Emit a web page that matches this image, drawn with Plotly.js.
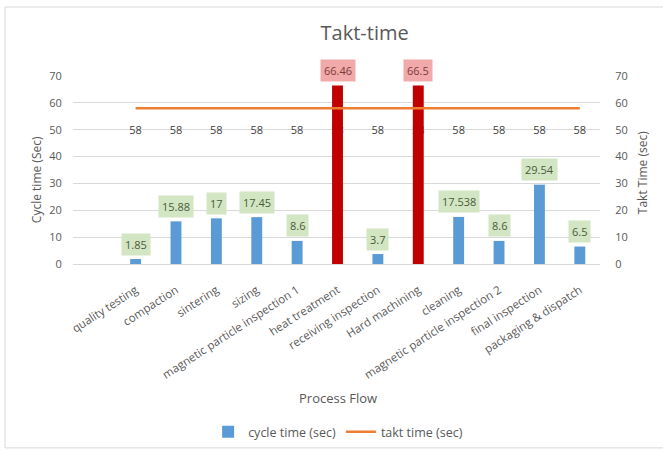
<!DOCTYPE html>
<html>
<head>
<meta charset="utf-8">
<script src="https://cdn.plot.ly/plotly-3.0.1.min.js"></script>
<style>html,body{margin:0;padding:0;background:#fff;}#chart{width:663px;height:451px;}</style>
</head>
<body>
<div id="chart"></div>
<script>
const categories = ["quality testing","compaction","sintering","sizing","magnetic particle inspection 1","heat treatment","receiving inspection","Hard machining","cleaning","magnetic particle inspection 2","final inspection","packaging & dispatch"];
const cycleTime = [1.85, 15.88, 17, 17.45, 8.6, 66.46, 3.7, 66.5, 17.538, 8.6, 29.54, 6.5];
const cycleLabels = ["1.85","15.88","17","17.45","8.6","66.46","3.7","66.5","17.538","8.6","29.54","6.5"];
const taktTime = [58, 58, 58, 58, 58, 58, 58, 58, 58, 58, 58, 58];

const FONT = "'Open Sans', sans-serif";
const GRAY = "#595959";
const BLUE = "#5b9bd5", RED = "#c00000", ORANGE = "#ed7d31";

const over = cycleTime.map((v, i) => v > taktTime[i]);

// takt labels on the lower subplot layer so the red bars cover them
const taktLabels = {
  type: "scatter", mode: "markers+text", x: categories, y: taktTime, yaxis: "y",
  text: taktTime.map(String), textposition: "bottom center",
  textfont: { family: FONT, size: 11, color: "#404040" },
  marker: { size: 26, opacity: 0 }, showlegend: false, hoverinfo: "skip"
};
const bars = {
  type: "bar", name: "cycle time (sec)", x: categories, y: cycleTime, yaxis: "y2",
  marker: { color: over.map(o => o ? RED : BLUE) },
  width: 0.27, hoverinfo: "x+y"
};
const line = {
  type: "scatter", mode: "lines", name: "takt time (sec)", x: categories, y: taktTime, yaxis: "y2",
  line: { color: ORANGE, width: 2.5 }
};

const annotations = [];
categories.forEach((c, i) => {
  annotations.push({
    x: c, y: cycleTime[i], xref: "x", yref: "y2", yshift: 15, yanchor: "middle",
    text: cycleLabels[i], showarrow: false,
    bgcolor: over[i] ? "#f2a9a9" : "#d3e6c4", borderpad: 3,
    font: { family: FONT, size: 11, color: over[i] ? "#7a3a3a" : "#4a5a3a" }
  });
});
annotations.push({ xref: "paper", yref: "paper", x: 0.503, y: -0.713, xanchor: "center", yanchor: "middle", text: "Process Flow", showarrow: false,
  font: { family: FONT, size: 13, color: GRAY } });
annotations.push({ xref: "paper", yref: "paper", x: -0.068, y: 0.447, xanchor: "center", yanchor: "middle", text: "Cycle time (Sec)", textangle: -90, showarrow: false,
  font: { family: FONT, size: 12, color: GRAY } });
annotations.push({ xref: "paper", yref: "paper", x: 1.08, y: 0.484, xanchor: "center", yanchor: "middle", text: "Takt Time (sec)", textangle: -90, showarrow: false,
  font: { family: FONT, size: 12, color: GRAY } });

const layout = {
  width: 663, height: 451,
  margin: { l: 73, r: 63, t: 76, b: 187 },
  paper_bgcolor: "#fff", plot_bgcolor: "#fff",
  font: { family: FONT, color: GRAY },
  title: { text: "Takt-time", x: 0.55, xref: "container", y: 0.927, yref: "container", yanchor: "middle", xanchor: "center",
    font: { family: FONT, size: 20, color: GRAY } },
  showlegend: true,
  legend: { orientation: "h", xref: "container", yref: "container", x: 0.51, xanchor: "center", y: 0.042, yanchor: "middle",
    font: { family: FONT, size: 12.5, color: GRAY }, tracegroupgap: 0 },
  xaxis: {
    type: "category", range: [-1.55, 11.5], tickangle: -33,
    showgrid: false, showline: true, linecolor: "#d9d9d9", linewidth: 1,
    ticks: "outside", ticklen: 14, tickcolor: "rgba(0,0,0,0)",
    tickfont: { family: FONT, size: 11.5, color: GRAY }, fixedrange: true, automargin: false
  },
  yaxis: {
    range: [0, 70], tickvals: [0,10,20,30,40,50,60,70], gridcolor: "#d9d9d9", gridwidth: 1,
    zeroline: false, showline: false,
    ticks: "outside", ticklen: 8, tickcolor: "rgba(0,0,0,0)",
    tickfont: { family: FONT, size: 11, color: GRAY }, automargin: false
  },
  yaxis2: {
    range: [0, 70], tickvals: [0,10,20,30,40,50,60,70], overlaying: "y", side: "right",
    showgrid: false, zeroline: false, showline: false,
    ticks: "outside", ticklen: 12, tickcolor: "rgba(0,0,0,0)",
    tickfont: { family: FONT, size: 11, color: GRAY }, automargin: false
  },
  annotations: annotations,
  shapes: [
    { type: "rect", xref: "paper", yref: "paper", x0: -0.129, x1: 1.2, y0: -0.978, y1: 1.367,
      line: { color: "#d9d9d9", width: 1 }, fillcolor: "rgba(0,0,0,0)", layer: "below" }
  ]
};

Plotly.newPlot("chart", [taktLabels, bars, line], layout, { displayModeBar: false, staticPlot: true });
</script>
</body>
</html>
